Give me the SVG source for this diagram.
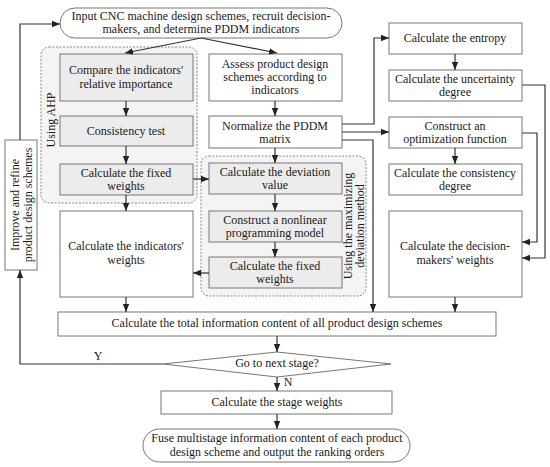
<svg xmlns="http://www.w3.org/2000/svg" width="550" height="467" viewBox="0 0 550 467">
<defs>
<marker id="ah" viewBox="0 0 10 10" refX="10" refY="5" markerWidth="8" markerHeight="8" markerUnits="userSpaceOnUse" orient="auto">
<path d="M0,1 L10,5 L0,9 Z" fill="#222"/>
</marker>
<style>
text{font-family:"Liberation Serif","Times New Roman",serif;font-size:12px;fill:#1a1a1a;text-anchor:middle;dominant-baseline:middle}
.box{fill:#fff;stroke:#777;stroke-width:1}
.gbox{fill:#ececec;stroke:#777;stroke-width:1}
.grp{fill:#f4f4f4;stroke:#888;stroke-width:1;stroke-dasharray:2 1.5}
.ln{fill:none;stroke:#333;stroke-width:1.2}
.ar{fill:none;stroke:#333;stroke-width:1.2;marker-end:url(#ah)}
</style>
</defs>
<rect width="550" height="467" fill="#fff"/>

<g id="group-ahp">
<rect class="grp" x="41" y="47" width="156" height="156" rx="8"/>
<text transform="translate(52,120) rotate(-90)">Using AHP</text>
</g>
<g id="group-maxdev">
<rect class="grp" x="201" y="156" width="165" height="140" rx="8"/>
<text transform="translate(349,226) rotate(-90)">Using the maximizing</text>
<text transform="translate(361,226) rotate(-90)">deviation method</text>
</g>

<g id="start">
<rect class="box" x="60" y="8" width="282" height="30" rx="15"/>
<text x="201" y="17">Input CNC machine design schemes, recruit decision-</text>
<text x="201" y="30">makers, and determine PDDM indicators</text>
</g>
<g id="compare">
<rect class="gbox" x="60" y="54" width="133" height="47"/>
<text x="126" y="71">Compare the indicators'</text>
<text x="126" y="85">relative importance</text>
</g>
<g id="consistency-test">
<rect class="gbox" x="60" y="116" width="133" height="30"/>
<text x="126" y="132">Consistency test</text>
</g>
<g id="ahp-fixed">
<rect class="gbox" x="60" y="164" width="133" height="31"/>
<text x="126" y="174">Calculate the fixed</text>
<text x="126" y="187">weights</text>
</g>
<g id="indicator-weights">
<rect class="box" x="60" y="211" width="133" height="86"/>
<text x="126" y="247">Calculate the indicators'</text>
<text x="126" y="261">weights</text>
</g>
<g id="assess">
<rect class="box" x="209" y="54" width="133" height="47"/>
<text x="275" y="65">Assess product design</text>
<text x="275" y="78">schemes according to</text>
<text x="275" y="91">indicators</text>
</g>
<g id="normalize">
<rect class="box" x="209" y="116" width="133" height="32"/>
<text x="275" y="127">Normalize the PDDM</text>
<text x="275" y="140">matrix</text>
</g>
<g id="deviation">
<rect class="gbox" x="209" y="163" width="133" height="31"/>
<text x="275" y="173">Calculate the deviation</text>
<text x="275" y="186">value</text>
</g>
<g id="nonlinear">
<rect class="gbox" x="209" y="211" width="133" height="31"/>
<text x="275" y="221">Construct a nonlinear</text>
<text x="275" y="234">programming model</text>
</g>
<g id="md-fixed">
<rect class="gbox" x="209" y="257" width="133" height="31"/>
<text x="275" y="267">Calculate the fixed</text>
<text x="275" y="280">weights</text>
</g>
<g id="entropy">
<rect class="box" x="389" y="23" width="133" height="31"/>
<text x="455" y="39">Calculate the entropy</text>
</g>
<g id="uncertainty">
<rect class="box" x="389" y="70" width="133" height="31"/>
<text x="455" y="80">Calculate the uncertainty</text>
<text x="455" y="93">degree</text>
</g>
<g id="optimization">
<rect class="box" x="389" y="117" width="133" height="31"/>
<text x="455" y="127">Construct an</text>
<text x="455" y="140">optimization function</text>
</g>
<g id="consistency-degree">
<rect class="box" x="389" y="164" width="133" height="31"/>
<text x="455" y="174">Calculate the consistency</text>
<text x="455" y="187">degree</text>
</g>
<g id="dm-weights">
<rect class="box" x="389" y="211" width="133" height="86"/>
<text x="455" y="247">Calculate the decision-</text>
<text x="455" y="261">makers' weights</text>
</g>
<g id="total">
<rect class="box" x="58" y="312" width="438" height="24"/>
<text x="277" y="324">Calculate the total information content of all product design schemes</text>
</g>
<g id="decision">
<polygon class="box" points="277,352 391,364 277,377 163,364"/>
<text x="277" y="364">Go to next stage?</text>
</g>
<g id="stage-weights">
<rect class="box" x="161" y="391" width="231" height="23"/>
<text x="277" y="403">Calculate the stage weights</text>
</g>
<g id="end">
<rect class="box" x="143" y="429" width="267" height="33" rx="16.5"/>
<text x="277" y="439">Fuse multistage information content of each product</text>
<text x="277" y="453">design scheme and output the ranking orders</text>
</g>
<g id="improve">
<rect class="box" x="5" y="140" width="32" height="130"/>
<text transform="translate(16,205) rotate(-90)">Improve and refine</text>
<text transform="translate(29,205) rotate(-90)">product design schemes</text>
</g>

<g id="connectors">
<path class="ar" d="M201,38 L125,53"/>
<path class="ar" d="M201,38 L277,53"/>
<path class="ar" d="M126,101 V116"/>
<path class="ar" d="M126,146 V164"/>
<path class="ar" d="M193,179 H209"/>
<path class="ar" d="M126,195 V211"/>
<path class="ar" d="M275,101 V116"/>
<path class="ar" d="M275,148 V163"/>
<path class="ar" d="M275,194 V211"/>
<path class="ar" d="M275,242 V257"/>
<path class="ar" d="M209,273 H193"/>
<path class="ar" d="M126,297 V312"/>
<path class="ar" d="M342,124 H374 V38 H389"/>
<path class="ar" d="M342,132 H389"/>
<path class="ar" d="M342,140 H373 V312"/>
<path class="ar" d="M455,54 V70"/>
<path class="ar" d="M455,148 V164"/>
<path class="ar" d="M522,85 H545 V258 H522"/>
<path class="ar" d="M522,133 H537 V242 H522"/>
<path class="ar" d="M455,297 V312"/>
<path class="ar" d="M277,336 V352"/>
<path class="ar" d="M277,377 V391"/>
<path class="ar" d="M277,414 V429"/>
<path class="ar" d="M163,364 H20 V270"/>
<path class="ar" d="M20,140 V24 H60"/>
<text x="98" y="357">Y</text>
<text x="288" y="383">N</text>
</g>
</svg>
